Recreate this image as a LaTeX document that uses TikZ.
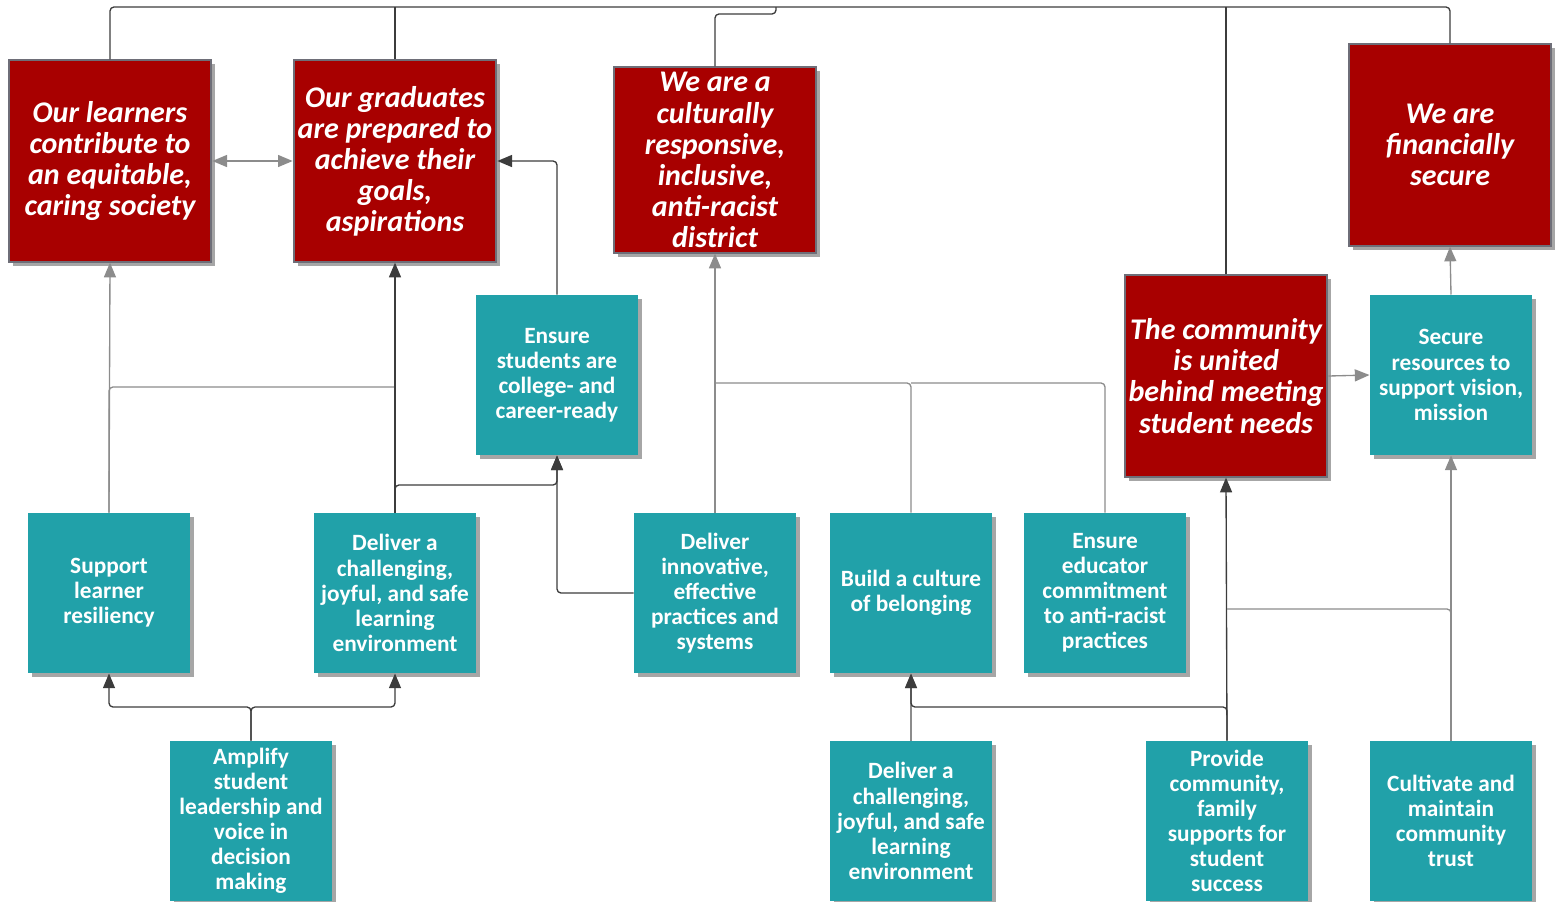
\documentclass[tikz,border=0pt]{standalone}
\usepackage{fontspec}
\setmainfont{Carlito}
\usetikzlibrary{shadows,arrows.meta}

\definecolor{goalred}{HTML}{A80000}
\definecolor{goalrim}{HTML}{6E6E78}
\definecolor{stratteal}{HTML}{21A1A9}
\definecolor{linegray}{HTML}{8C8C8C}
\definecolor{linedark}{HTML}{3C3C3C}

\tikzset{every picture/.style={line width=0.75pt}}
\tikzset{
  goal/.style={fill=goalred, draw=goalrim, line width=1.5pt, text=white,
    font=\fontsize{22.5}{23.3}\selectfont\bfseries\itshape, align=center,
    inner sep=0pt, minimum width=152pt, minimum height=151pt,
    drop shadow={shadow xshift=3pt, shadow yshift=-3pt, opacity=0.35, fill=black}},
  strat/.style={fill=stratteal, text=white,
    font=\fontsize{17.5}{18.8}\selectfont\bfseries, align=center,
    inner sep=0pt, minimum width=121.5pt, minimum height=120pt,
    drop shadow={shadow xshift=3pt, shadow yshift=-3pt, opacity=0.35, fill=black}},
  link/.style={draw=linegray, line width=1pt, rounded corners=3pt},
  linkd/.style={draw=linedark, line width=1pt, rounded corners=3pt},
  tip/.style={-{Triangle[length=11pt,width=9pt]}},
}

\begin{document}
\begin{tikzpicture}[x=0.75pt,y=0.75pt,yscale=-1,xscale=1]
  \useasboundingbox (0,0) rectangle (1557,901);

  % Goal Nodes
  \node [goal] (learners) at (110,161) {Our learners\\contribute to\\an equitable,\\caring society};
  \node [goal] (grad) at (395,161) {Our graduates\\are prepared to\\achieve their\\goals,\\aspirations};
  \node [goal, minimum height=139pt] (cult) at (715,160) {We are a\\culturally\\responsive,\\inclusive,\\anti-racist\\district};
  \node [goal] (fin) at (1450,145) {We are\\financially\\secure};
  \node [goal] (comm) at (1226,376) {The community\\is united\\behind meeting\\student needs};

  % Strategy Nodes
  \node [strat] (ready) at (557,375) {Ensure\\students are\\college- and\\career-ready};
  \node [strat] (secure) at (1451,375) {Secure\\resources to\\support vision,\\mission};
  \node [strat] (resil) at (109,593) {Support\\learner\\resiliency};
  \node [strat] (learnenv) at (395,593) {Deliver a\\challenging,\\joyful, and safe\\learning\\environment};
  \node [strat] (innov) at (715,593) {Deliver\\innovative,\\effective\\practices and\\systems};
  \node [strat] (belong) at (911,593) {Build a culture\\of belonging};
  \node [strat] (educ) at (1105,593) {Ensure\\educator\\commitment\\to anti-racist\\practices};
  \node [strat] (amplify) at (251,821) {Amplify\\student\\leadership and\\voice in\\decision\\making};
  \node [strat] (learnenvb) at (911,821) {Deliver a\\challenging,\\joyful, and safe\\learning\\environment};
  \node [strat] (provide) at (1227,821) {Provide\\community,\\family\\supports for\\student\\success};
  \node [strat] (trust) at (1451,821) {Cultivate and\\maintain\\community\\trust};

  % Junction rows
  \coordinate (topbus) at (0,7);
  \coordinate (cultbus) at (776,14);
  \coordinate (rowa) at (0,387);
  \coordinate (rowb) at (0,485);
  \coordinate (rowc) at (0,383);
  \coordinate (rowd) at (0,707);
  \coordinate (rowe) at (0,609);

  % Top bus
  \draw [linkd] (learners.north) |- (topbus -| fin.north) -- (fin.north);
  \draw [linkd] (grad.north) -- (grad.north |- topbus);
  \draw [linkd] (cult.north) |- (cultbus) -- (cultbus |- topbus);
  \draw [linkd] (comm.north) -- (comm.north |- topbus);

  % Upper connectors
  \draw [link, {Triangle[length=11pt,width=9pt]}-{Triangle[length=11pt,width=9pt]}] (learners.east) -- (grad.west);
  \draw [linkd, tip] (ready.north) |- (grad.east);
  \draw [link, tip] (resil.north) -- (learners.south);
  \draw [link] (resil.north) |- (learnenv.north |- rowa);
  \draw [linkd, tip] (learnenv.north) -- (grad.south);
  \draw [linkd, tip] (learnenv.north) |- (ready.south |- rowb) -- (ready.south);
  \draw [linkd, tip] (innov.west) -| (ready.south);
  \draw [link, tip] (innov.north) -- (cult.south);
  \draw [link] (belong.north) |- (innov.north |- rowc);
  \draw [link] (educ.north) |- (belong.north |- rowc);
  \draw [link, tip] (comm.east) -- (secure.west);
  \draw [link, tip] (secure.north) -- (fin.south);

  % Lower connectors
  \draw [linkd, tip] (amplify.north) |- (resil.south |- rowd) -- (resil.south);
  \draw [linkd, tip] (amplify.north) |- (learnenv.south |- rowd) -- (learnenv.south);
  \draw [link, tip] (learnenvb.north) -- (belong.south);
  \draw [linkd, tip] (provide.north) |- (belong.south |- rowd) -- (belong.south);
  \draw [linkd, tip] (provide.north) -- (comm.south);
  \draw [link, tip] (trust.north) -- (secure.south);
  \draw [link] (trust.north) |- (provide.north |- rowe);
\end{tikzpicture}
\end{document}
